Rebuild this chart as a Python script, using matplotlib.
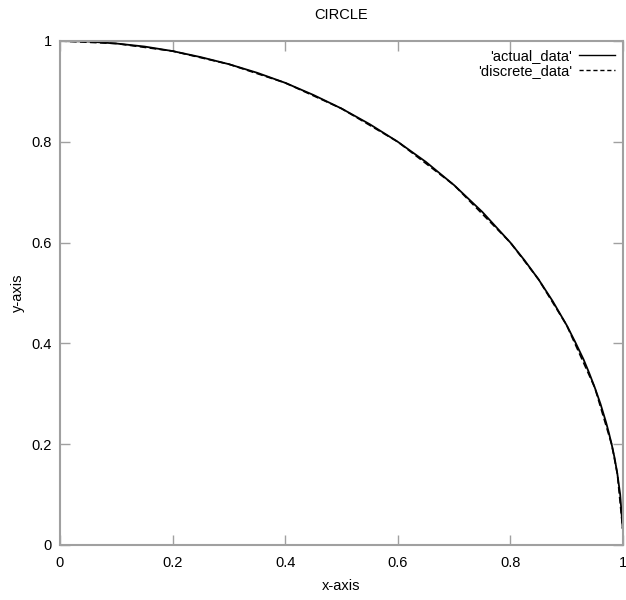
import matplotlib
matplotlib.use("Agg")
import matplotlib.pyplot as plt
from matplotlib.lines import Line2D

plt.rcParams['font.family'] = ['Liberation Sans', 'DejaVu Sans']

# Quarter-circle samples
actual_x = [0.0, 0.05, 0.1, 0.15, 0.2, 0.25, 0.3, 0.35, 0.4, 0.45, 0.5, 0.55,
            0.6, 0.65, 0.7, 0.75, 0.8, 0.825, 0.85, 0.875, 0.9, 0.915, 0.93,
            0.94, 0.95, 0.96, 0.97, 0.975, 0.98, 0.985, 0.99, 0.995, 0.9995]
actual_y = [1.0, 0.999, 0.995, 0.989, 0.98, 0.968, 0.954, 0.937, 0.917, 0.893,
            0.866, 0.835, 0.8, 0.76, 0.714, 0.661, 0.6, 0.565, 0.527, 0.484,
            0.436, 0.403, 0.368, 0.341, 0.312, 0.28, 0.243, 0.222, 0.199,
            0.173, 0.141, 0.1, 0.032]

discrete_x = [0.0, 0.1, 0.2, 0.3, 0.4, 0.5, 0.6, 0.7, 0.8, 0.85, 0.9, 0.95,
              0.98, 0.99, 0.9995]
discrete_y = [1.0, 0.995, 0.98, 0.954, 0.917, 0.866, 0.8, 0.714, 0.6, 0.527,
              0.436, 0.312, 0.199, 0.141, 0.032]

xticks = [0, 0.2, 0.4, 0.6, 0.8, 1]
yticks = [0, 0.2, 0.4, 0.6, 0.8, 1]
tick_text = ['0', '0.2', '0.4', '0.6', '0.8', '1']

W, H = 626, 600
fig = plt.figure(figsize=(W / 100, H / 100), dpi=100)
left, right, top, bottom = 60, 623, 41, 545
ax = fig.add_axes([left / W, 1 - bottom / H, (right - left) / W,
                   (bottom - top) / H])

ax.plot(discrete_x, discrete_y, color='black', lw=1.2, dashes=(4, 2))
ax.plot(actual_x, actual_y, color='black', lw=1.3, solid_capstyle='butt')

ax.set_xlim(0, 1)
ax.set_ylim(0, 1)
ax.set_xticks(xticks)
ax.set_yticks(yticks)
ax.set_xticklabels(tick_text)
ax.set_yticklabels(tick_text)

frame_color = '#a0a0a0'
for s in ax.spines.values():
    s.set_color(frame_color)
    s.set_linewidth(1.5)
ax.tick_params(direction='in', length=7, width=1, color=frame_color,
               labelsize=10.5, top=True, right=True)
ax.tick_params(axis='x', pad=8)
ax.tick_params(axis='y', pad=6)

ax.set_xlabel('x-axis', fontsize=10.5)
ax.set_ylabel('y-axis', fontsize=10.5)
ax.xaxis.set_label_coords(0.5, (bottom - 586) / (bottom - top))
ax.yaxis.set_label_coords((18 - left) / (right - left), 0.5)
ax.xaxis.label.set_va('center')
ax.yaxis.label.set_va('center')
ax.text(0.5, (bottom - 15) / (bottom - top), 'CIRCLE', transform=ax.transAxes,
        ha='center', va='center', fontsize=10.5)

handles = [Line2D([], [], color='black', lw=1),
           Line2D([], [], color='black', lw=1, dashes=(3, 2))]
leg = ax.legend(handles, ["'actual_data'", "'discrete_data'"],
                loc='upper right', frameon=False, fontsize=10.5,
                markerfirst=False, handlelength=2.5, handletextpad=0.45,
                labelspacing=0.05, borderaxespad=0.15)
for t in leg.get_texts():
    t.set_ha('right')
leg._legend_box.align = 'right'

fig.savefig('out.png', dpi=100)
